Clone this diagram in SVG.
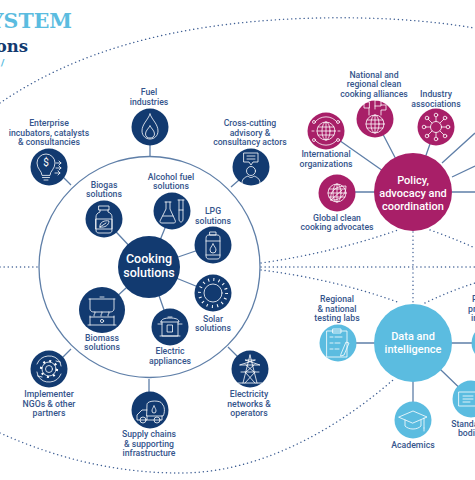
<svg xmlns="http://www.w3.org/2000/svg" xmlns:xlink="http://www.w3.org/1999/xlink" width="475" height="480" viewBox="0 0 475 480">
<style>
.bg{fill:#fff}
.l{font-family:Roboto,"Liberation Sans",sans-serif;font-weight:500;font-size:8.700px;fill:#35558c;text-anchor:middle}
.c{font-family:Roboto,"Liberation Sans",sans-serif;font-weight:500;fill:#fff;text-anchor:middle}
.t{font-family:"DejaVu Serif",serif;font-weight:700}
.navy{fill:#123a70}.mag{fill:#a81f68}.sky{fill:#5bbce0}
.i{fill:none;stroke:#fff;stroke-width:.8;stroke-linecap:round;stroke-linejoin:round}
.lnk{fill:none;stroke:#5f7fa8;stroke-width:1.3}
.dot{fill:none;stroke:#3f5f94;stroke-width:1.400;stroke-linecap:round;stroke-dasharray:.1 4}
</style>
<defs>
<g id="globe" class="i"><circle r="9"/><ellipse rx="4" ry="9"/><path d="M0-9V9M-9 0H9M-8-4H8M-8 4H8"/></g>
</defs>
<rect class="bg" width="475" height="480"/>
<g id="title">
<text class="t" x="72" y="28" font-size="20.500" fill="#5bbce0" text-anchor="end">SYSTEM</text>
<text class="t" x="28" y="52" font-size="16.500" fill="#123a70" text-anchor="end">ons</text>
<text class="t" x="4.500" y="66" font-size="10" fill="#5bbce0" text-anchor="end">/</text>
</g>
<g id="connectors">
<path class="dot" d="M0 103C75 52 170 24 300 18.500C370 16 430 20 480 29"/>
<path class="dot" d="M0 433C60 460 120 473 180 473C260 473 335 430 393 380"/>
<path class="dot" d="M0 267H38"/>
<path class="dot" d="M261 263C310 256 355 245 398 230"/>
<path class="dot" d="M261 267H475"/>
<path class="dot" d="M261 270C310 276 360 288 400 303"/>
<path class="dot" d="M413 232V303"/>
<path class="dot" d="M430 230Q453 238 475 248"/>
<path class="dot" d="M425 303Q450 291 475 283"/>
<path class="lnk" d="M150 145V156M62 176L71 185M239 180L231 187M71 349L62 358M228 347L238 357M149 379V392"/>
<circle cx="149.500" cy="267" r="110.500" fill="none" stroke="#5f7fa8" stroke-width="1.300"/>
<path class="lnk" d="M149 267L104 219M149 267L172 211M149 267L213 245M149 267L213 293M149 267L170 327M149 267L102 310"/>
<path class="lnk" d="M413 192L375 119M413 192L436 127M413 192L326 131M413 192H337M442 163L475 133M452 177L475 166M452 192H475"/>
<path class="lnk" d="M338 343H490M413 343V420M413 343L471 399"/>
</g>
<g id="cooking"><circle class="navy" cx="149" cy="267" r="31"/>
<text class="c" x="149" y="263" font-size="12.500">Cooking</text><text class="c" x="149" y="277" font-size="12.500">solutions</text></g>
<g id="fuel"><circle class="navy" cx="150" cy="127" r="18.500"/>
<g class="i" transform="translate(150 127)"><path d="M0-13C-2-7-8-3-8 4C-8 9-4 12 0 12C4 12 8 9 8 4C8-3 2-7 0-13Z"/><path d="M0-1C-2 2-4.500 4-4.500 7C-4.500 10-2 11 0 11C2 11 4.500 10 4.500 7C4.500 4 2 2 0-1Z"/></g>
<text class="l" x="149" y="95">Fuel</text><text class="l" x="149" y="104.700">industries</text></g>
<g id="enterprise"><circle class="navy" cx="49" cy="167" r="18.500"/>
<g class="i" transform="translate(46 166)"><path d="M-4 9C-4 5-9 3-9-3A9 9 0 0 1 9-3C9 3 4 5 4 9ZM-3.500 11.500H3.500M-2 14H2"/><path d="M10-3H15M13-5L15-3L13-1M10 2H15M13 0L15 2L13 4M9 7H14M12 5L14 7L12 9"/></g>
<text x="46" y="166" font-family="Roboto,sans-serif" font-size="10" fill="#fff" text-anchor="middle">$</text>
<text class="l" x="49" y="126">Enterprise</text><text class="l" x="49" y="135.700">incubators, catalysts</text><text class="l" x="49" y="145">&amp; consultancies</text></g>
<g id="crosscutting"><circle class="navy" cx="251" cy="167" r="18.500"/>
<g class="i" transform="translate(251 167)"><path d="M-7-14H7V-5H2L0-2L-2-5H-7ZM-4-11H4M-4-8H4"/><circle cy="4" r="4.500"/><path d="M-9 16C-9 11-5 10-3 9C-1 11 1 11 3 9C5 10 9 11 9 16"/></g>
<text class="l" x="250" y="126">Cross-cutting</text><text class="l" x="250" y="135.700">advisory &amp;</text><text class="l" x="250" y="145">consultancy actors</text></g>
<g id="biogas"><circle class="navy" cx="104" cy="219" r="18.500"/>
<g class="i" transform="translate(104 219)"><path d="M-5-13H5V-9H-5ZM-4-9V-7C-7-6-8-4-8-2V11C-8 13-7 14-5 14H5C7 14 8 13 8 11V-2C8-4 7-6 4-7V-9"/><path d="M-8 0H8V10H-8Z"/><path d="M-4 8C-5 3 1 1 5 2C5 6 1 9-4 8ZM-4 8L2 4"/></g>
<text class="l" x="104" y="188">Biogas</text><text class="l" x="104" y="197">solutions</text></g>
<g id="alcohol"><circle class="navy" cx="172" cy="211" r="18.500"/>
<g class="i" transform="translate(172 211)"><path d="M-7-9H-1M-6-9V-2L-12 10C-12 11-12 12-10 12H2C3 12 4 11 3 9L-2-2V-9M-9 5H1"/><path d="M6-11H12M7-11V8C7 12 11 12 11 8V-11M7-1H11"/></g>
<text class="l" x="171" y="180">Alcohol fuel</text><text class="l" x="171" y="189">solutions</text></g>
<g id="lpg"><circle class="navy" cx="213" cy="245" r="18.500"/>
<g class="i" transform="translate(213 245)"><path d="M-3-13H3V-10H-3ZM-7-7C-7-9-6-10-4-10H4C6-10 7-9 7-7V11C7 13 6 14 4 14H-4C-6 14-7 13-7 11Z"/><path d="M-7-4H7M-7 10H7"/><path d="M0-1C-1 1-3 3-3 5A3 3 0 0 0 3 5C3 3 1 1 0-1Z"/></g>
<text class="l" x="213" y="214">LPG</text><text class="l" x="213" y="224">solutions</text></g>
<g id="solar"><circle class="navy" cx="213" cy="293" r="18.500"/>
<g class="i" transform="translate(213 293)"><circle r="9"/><circle r="13.500" stroke-width="3" stroke-dasharray="1 4.300" stroke-linecap="butt"/></g>
<text class="l" x="213" y="322">Solar</text><text class="l" x="213" y="331">solutions</text></g>
<g id="electric"><circle class="navy" cx="170" cy="327" r="18.500"/>
<g class="i" transform="translate(170 327)"><path d="M-9-5C-9-8-5-9 0-9C5-9 9-8 9-5H-9ZM-8-5V9H8V-5M-12-3H-8M8-3H12M-10 9H10M-2-10H2"/><rect x="-2.500" y="-2" width="5" height="7"/></g>
<text class="l" x="170" y="354">Electric</text><text class="l" x="170" y="364">appliances</text></g>
<g id="biomass"><circle class="navy" cx="102" cy="310" r="23"/>
<g class="i" transform="translate(102 310)"><path d="M-13-11H13M-12-11V-1C-12 1-10 2-8 2H8C10 2 12 1 12-1V-11M-2-13H2M-12 6V15M12 6V15M-14 15H14M-12 7H12"/></g>
<g class="i" transform="translate(102 310)"><circle cy="11" r="1.600"/><path d="M-8 6C-9 4-6 4-7 2M-1 6C-2 4 1 4 0 2M6 6C5 4 8 4 7 2"/></g>
<text class="l" x="102" y="341">Biomass</text><text class="l" x="102" y="350">solutions</text></g>
<g id="implementer"><circle class="navy" cx="49" cy="369" r="18.500"/>
<g class="i" transform="translate(49 369)"><circle r="3.500"/><circle r="7"/><circle r="8" stroke-dasharray="2 4.280" stroke-width="2.200" stroke-linecap="butt"/><path d="M-12-5A13 13 0 0 1 11-7M11-7L7-8M11-7L12-3M12 5A13 13 0 0 1-11 7M-11 7L-7 8M-11 7L-12 3"/></g>
<text class="l" x="49" y="397">Implementer</text><text class="l" x="49" y="406.500">NGOs &amp; other</text><text class="l" x="49" y="416">partners</text></g>
<g id="supply"><circle class="navy" cx="150" cy="410" r="18.500"/>
<g class="i" transform="translate(150 410)"><path d="M-3-6C-3-10 12-10 12-6C15-4 15 3 13 6H-3ZM-3 0H-8L-13 5V10H-3V6M12 6V10H-3"/><circle cx="-7" cy="10" r="3"/><circle cx="7" cy="10" r="3"/><path d="M4-4C3-2 2-1 2 1A2 2 0 0 0 6 1C6-1 5-2 4-4Z"/></g>
<text class="l" x="149" y="437">Supply chains</text><text class="l" x="149" y="447">&amp; supporting</text><text class="l" x="149" y="456">infrastructure</text></g>
<g id="electricity"><circle class="navy" cx="250" cy="369" r="18.500"/>
<g class="i" transform="translate(250 369)"><path d="M0-14L-7 14M0-14L7 14M-10-4H10L-5-9H5ZM-9 3H9M-4-4L4 3M4-4L-4 3M-5 3L5 14M5 3L-5 14M-12 14H12"/></g>
<text class="l" x="249" y="397">Electricity</text><text class="l" x="249" y="406.500">networks &amp;</text><text class="l" x="249" y="416">operators</text></g>
<g id="policy"><circle class="mag" cx="413" cy="192" r="39"/>
<text class="c" x="413" y="184" font-size="11">Policy,</text><text class="c" x="413" y="197" font-size="11">advocacy and</text><text class="c" x="413" y="209.500" font-size="11">coordination</text></g>
<g id="national"><circle class="mag" cx="375" cy="119" r="18.500"/>
<use xlink:href="#globe" transform="translate(375 124)"/>
<path class="i" d="M369 115V108M369 102H364V108H369ZM375 109V100H381V106H375M381 115V110H386V105H381"/>
<text class="l" x="374" y="77.500">National and</text><text class="l" x="374" y="87">regional clean</text><text class="l" x="374" y="97">cooking alliances</text></g>
<g id="industry"><circle class="mag" cx="436" cy="127" r="18.500"/>
<g class="i" transform="translate(436 127)"><circle r="5.500"/><path d="M0-5.500V-10M0 5.500V10M-5.500 0H-10M5.500 0H10M-4-4L-8-8M4-4L8-8M-4 4L-8 8M4 4L8 8"/><circle cy="-12" r="1.800"/><circle cy="12" r="1.800"/><circle cx="-12" r="1.800"/><circle cx="12" r="1.800"/><circle cx="-9" cy="-9" r="1.800"/><circle cx="9" cy="-9" r="1.800"/><circle cx="-9" cy="9" r="1.800"/><circle cx="9" cy="9" r="1.800"/></g>
<text class="l" x="436" y="97">Industry</text><text class="l" x="436" y="106.500">associations</text></g>
<g id="international"><circle class="mag" cx="326" cy="131" r="18.500"/>
<use xlink:href="#globe" transform="translate(326 131)"/>
<path class="i" d="M315 122A14 14 0 0 1 337 122M315 140A14 14 0 0 0 337 140M314 131H312M338 131H340"/>
<circle class="i" cx="314" cy="122" r="1.500"/><circle class="i" cx="338" cy="122" r="1.500"/><circle class="i" cx="314" cy="140" r="1.500"/><circle class="i" cx="338" cy="140" r="1.500"/>
<text class="l" x="326" y="157">International</text><text class="l" x="326" y="166.500">organizations</text></g>
<g id="global"><circle class="mag" cx="337" cy="193" r="18.500"/>
<use xlink:href="#globe" transform="translate(337 193)"/>
<path class="i" d="M331 200C329 191 336 186 346 186C346 195 340 201 331 200ZM331 200L342 190"/>
<text class="l" x="337" y="221">Global clean</text><text class="l" x="337" y="230">cooking advocates</text></g>
<g id="data"><circle class="sky" cx="413" cy="343" r="39"/>
<text class="c" x="413" y="340" font-size="11">Data and</text><text class="c" x="413" y="353" font-size="11">intelligence</text></g>
<g id="regional"><circle class="sky" cx="338" cy="343" r="18.500"/>
<g class="i" transform="translate(337 343)"><path d="M-10-12H10V14H-10ZM-4-14H4V-10H-4ZM-7-6H-4M-7 0H-4M-7 6H-4M-2-6H5M-2 0H3M-2 6H2"/><path d="M4 11L9-1L12 0L7 12L4 13Z"/></g>
<text class="l" x="337" y="302">Regional</text><text class="l" x="337" y="311.500">&amp; national</text><text class="l" x="337" y="321">testing labs</text></g>
<g id="academics"><circle class="sky" cx="413" cy="420" r="18.500"/>
<g class="i" transform="translate(413 420)"><path d="M-14-3L0-9L14-3L0 3ZM-8 0V6C-4 10 4 10 8 6V0M11-2V8M11 8V11"/></g>
<text class="l" x="413" y="448">Academics</text></g>
<g id="standards"><circle class="sky" cx="471" cy="399" r="18.500"/>
<g class="i" transform="translate(471 399)"><path d="M-12-7H12V7H-12ZM-8-3H2M-8 0H2M-8 3H-1"/></g>
<text class="l" x="471" y="426.500">Standards</text><text class="l" x="471" y="436">bodies</text></g>
<g id="rightnode"><circle class="sky" cx="490" cy="343" r="18.500"/>
<text class="l" x="472" y="302" style="text-anchor:start">P</text><text class="l" x="468" y="311.500" style="text-anchor:start">pr</text><text class="l" x="471" y="321" style="text-anchor:start">in</text></g>
</svg>
